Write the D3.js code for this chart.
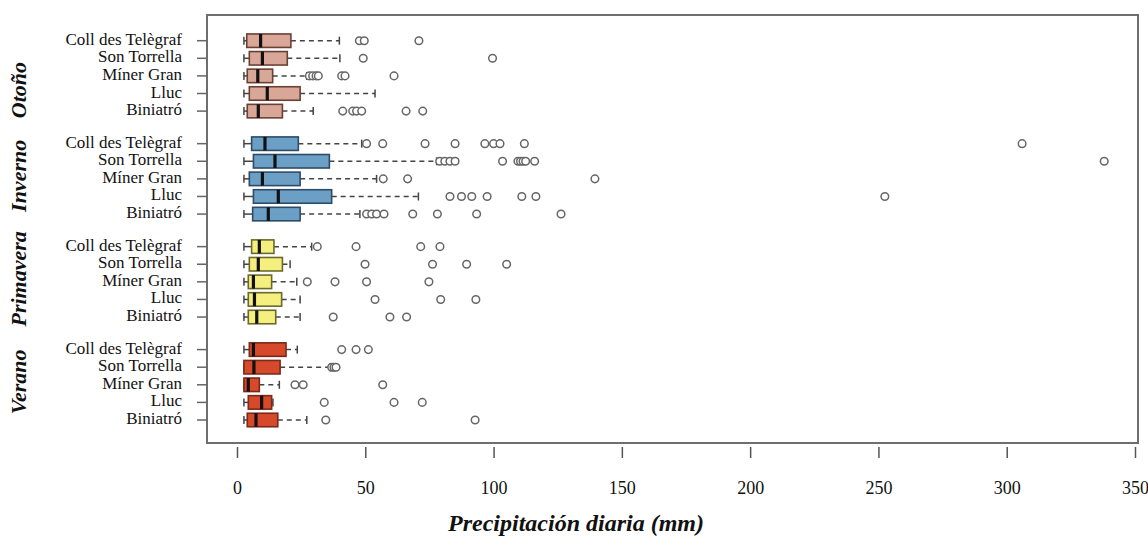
<!DOCTYPE html>
<html><head><meta charset="utf-8">
<script src="https://cdn.jsdelivr.net/npm/d3@7"></script>
<style>body{margin:0;background:#fff}svg{display:block}</style>
</head><body>
<svg id="c" width="1148" height="539"></svg>
<script>
const seasons = ["Otoño","Inverno","Primavera","Verano"];
const stations = ["Coll des Telègraf","Son Torrella","Míner Gran","Lluc","Biniatró"];
const xTicks = [0,50,100,150,200,250,300,350];
const xTitle = "Precipitación diaria (mm)";
// [lower whisker, Q1, median, Q3, upper whisker] per station
const otonoStats = [[2.7,3.8,9.2,21,39.9],[2.7,4.8,9.9,19.6,40.1],[2.7,4,8.1,13.9,27.2],[2.7,4.8,11.8,24.6,53.8],[2.7,4,8.3,17.7,29.7]];
const otonoOut = [[47.7,49.6,70.9],[49.2,99.6],[28.2,29.5,30.8,31.7,40.8,42.1,61.2],[],[41.2,45.1,46.6,48.6,65.9,72.4]];
const invernoStats = [[2.7,5.7,10.9,23.9,48.6],[2.7,6.4,14.8,36,77.8],[2.7,4.8,9.9,24.6,54.4],[2.7,6.4,16.1,36.9,70.7],[2.7,6.1,12.2,24.6,47.9]];
const invernoOut = [[50.5,56.8,73.3,85,96.6,100,102.5,112,306],[79,81,83,85,103.5,109.5,110.5,111.5,112.5,116,338],[57,66.5,139.5],[83,87.5,91.5,97.5,111,116.5,252.5],[50.5,52.5,54.4,57.3,68.5,78.1,93.4,126.3]];
const primaveraStats = [[2.7,5.7,8.7,14.4,29.1],[2.7,4.8,8.3,17.7,20.7],[2.7,4.4,6.4,13.5,23.3],[2.7,4.4,6.8,17.4,24.6],[2.7,4.4,7.7,15.1,24.6]];
const primaveraOut = [[31.3,46.4,71.6,79.1],[49.9,76.2,89.5,105.1],[27.4,38.2,50.5,74.8],[53.8,79.4,93.1],[37.5,59.6,66.1]];
const veranoStats = [[2.7,4.8,6.4,19.1,23.5],[2.7,2.7,6.6,16.8,36.2],[2.7,2.7,4.4,8.7,16.5],[2.7,4.4,9.6,13.5,14],[2.7,4,7.4,15.9,27.2]];
const veranoOut = [[40.8,46.4,51.2],[36.9,37.8,38.6],[22.6,25.8,56.8],[34,61.2,72.2],[34.6,92.8]];
const statsBySeason = [otonoStats, invernoStats, primaveraStats, veranoStats];
const outBySeason = [otonoOut, invernoOut, primaveraOut, veranoOut];
const fills = ["#d8a797","#6b9fc6","#f4ef7e","#d6492b"];
const strokes = ["#6b4034","#2e4c68","#6b6a2c","#7a2a18"];

const svg = d3.select("#c");
const L = 207, R = 1138, T = 15, B = 443;
const x = d3.scaleLinear().domain([0,350]).range([237,1135]);
const GAP = 0.85;
const slot = (g,i) => g*(5+GAP)+i;
const y = d3.scaleLinear().domain([0, slot(3,4)]).range([40.7, 420]);
const serif = "'Liberation Serif','Times New Roman',serif";

// frame
svg.append("rect").attr("x",L).attr("y",T).attr("width",R-L).attr("height",B-T)
  .attr("fill","none").attr("stroke","#6e6e6e").attr("stroke-width",2);

// x axis
const xa = svg.append("g").attr("transform",`translate(0,${B+4})`)
  .call(d3.axisBottom(x).tickValues(xTicks).tickSize(11).tickPadding(23).tickFormat(d3.format("d")));
xa.select(".domain").remove();
xa.selectAll("line").attr("stroke","#555").attr("stroke-width",1.5);
xa.selectAll("text").attr("font-family",serif).attr("font-size",18).attr("fill","#111");
svg.append("text").attr("x",576).attr("y",531).attr("text-anchor","middle")
  .attr("font-family",serif).attr("font-size",24).attr("font-weight","bold").attr("font-style","italic")
  .attr("fill","#111").text(xTitle);

const boxH = 13.5;
seasons.forEach((s,g) => {
  const st = statsBySeason[g], out = outBySeason[g];
  const ys = stations.map((_,i)=>y(slot(g,i)));
  // season label
  const cy = g===0 ? 90 : (ys[0]+ys[4])/2 - 3;
  svg.append("text").attr("transform",`translate(26,${cy}) rotate(-90)`).attr("text-anchor","middle")
    .attr("font-family",serif).attr("font-size",22).attr("font-weight","bold").attr("font-style","italic")
    .attr("fill","#111").text(s);
  stations.forEach((name,i) => {
    const yy = ys[i];
    const [lo,q1,md,q3,hi] = st[i];
    svg.append("text").attr("x",182).attr("y",yy+4).attr("text-anchor","end")
      .attr("font-family",serif).attr("font-size",17).attr("fill","#111").text(name);
    svg.append("line").attr("x1",197).attr("x2",L).attr("y1",yy).attr("y2",yy)
      .attr("stroke","#666").attr("stroke-width",1.5);
    const wc = "#444";
    svg.append("line").attr("x1",x(q3)).attr("x2",x(hi)).attr("y1",yy).attr("y2",yy)
      .attr("stroke",wc).attr("stroke-width",1.5).attr("stroke-dasharray","5,4");
    svg.append("line").attr("x1",x(lo)).attr("x2",x(q1)).attr("y1",yy).attr("y2",yy)
      .attr("stroke",wc).attr("stroke-width",1.5);
    [lo,hi].forEach(v => svg.append("line").attr("x1",x(v)).attr("x2",x(v))
      .attr("y1",yy-4).attr("y2",yy+4).attr("stroke",wc).attr("stroke-width",1.5));
    svg.append("rect").attr("x",x(q1)).attr("y",yy-boxH/2).attr("width",x(q3)-x(q1)).attr("height",boxH)
      .attr("fill",fills[g]).attr("stroke",strokes[g]).attr("stroke-width",1.6);
    svg.append("line").attr("x1",x(md)).attr("x2",x(md)).attr("y1",yy-boxH/2).attr("y2",yy+boxH/2)
      .attr("stroke","#111").attr("stroke-width",3.2);
    out[i].forEach(v => svg.append("circle").attr("cx",x(v)).attr("cy",yy).attr("r",3.8)
      .attr("fill","#fff").attr("stroke","#666").attr("stroke-width",1.5));
  });
});
</script>
</body></html>
